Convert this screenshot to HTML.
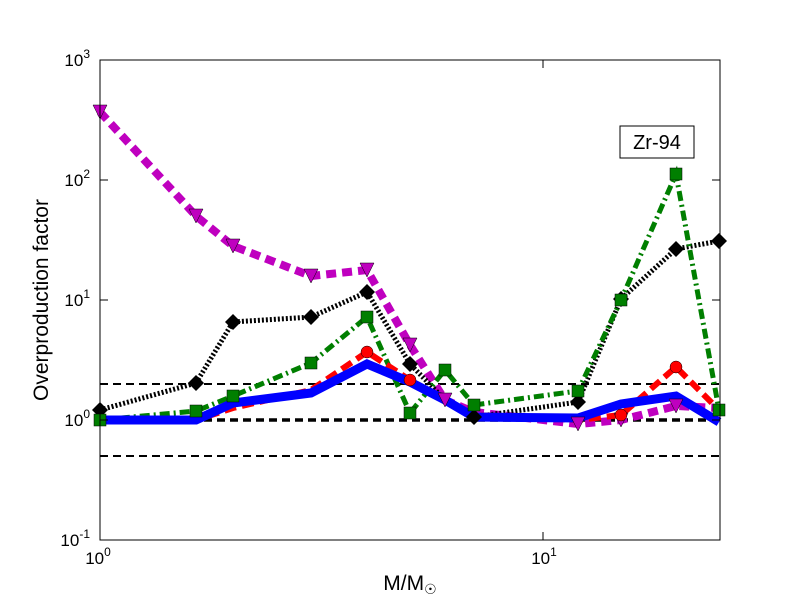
<!DOCTYPE html>
<html><head><style>body{margin:0;background:#fff}</style></head><body>
<svg width="800" height="600" xmlns="http://www.w3.org/2000/svg" font-family="Liberation Sans, sans-serif">
<rect width="800" height="600" fill="#fff"/>
<g stroke="#000" stroke-dasharray="8,5" fill="none">
<line x1="100" y1="384" x2="720" y2="384" stroke-width="2"/>
<line x1="100" y1="420" x2="720" y2="420" stroke-width="3.5"/>
<line x1="100" y1="456" x2="720" y2="456" stroke-width="2"/>
</g>
<polyline fill="none" stroke="#bf00bf" stroke-width="8" stroke-dasharray="10,6" points="100,112 196,216 233,246 311,276 367,270 410,345 445,400 474,412 578,424 621,420 676,406 719,408"/>
<polyline fill="none" stroke="#000" stroke-width="5" stroke-dasharray="2,2" points="100,410 196,383 233,322 311,317 367,292 410,364 445,400 474,417 578,402 621,299 676,249 719,241"/>
<polyline fill="none" stroke="#007f00" stroke-width="5" stroke-dasharray="10,4,2,4" points="100,420 196,411 233,396 311,363 367,317 410,413 445,370 474,405 578,391 621,300 676,174 719,410"/>
<polyline fill="none" stroke="#f00" stroke-width="6" stroke-dasharray="12,6" points="100,420 196,420 233,408 311,390 367,352 410,380 445,400 474,415 578,420 621,415 676,367 719,410"/>
<polyline fill="none" stroke="#00f" stroke-width="9" points="100,420 196,420 233,403 311,393 367,364 410,382 445,400 474,417 578,418 621,404 676,396 719,422"/>
<g fill="#bf00bf" stroke="#000" stroke-width="0.5">
<path d="M93,105h14l-7,14z"/><path d="M189,209h14l-7,14z"/><path d="M226,239h14l-7,14z"/><path d="M304,269h14l-7,14z"/><path d="M360,263h14l-7,14z"/><path d="M403,338h14l-7,14z"/><path d="M438,393h14l-7,14z"/><path d="M571,417h14l-7,14z"/><path d="M614,413h14l-7,14z"/><path d="M669,399h14l-7,14z"/>
</g>
<g fill="#000">
<path d="M100,402l8,8-8,8-8-8z"/><path d="M196,375l8,8-8,8-8-8z"/><path d="M233,314l8,8-8,8-8-8z"/><path d="M311,309l8,8-8,8-8-8z"/><path d="M367,284l8,8-8,8-8-8z"/><path d="M410,356l8,8-8,8-8-8z"/><path d="M474,409l8,8-8,8-8-8z"/><path d="M578,394l8,8-8,8-8-8z"/><path d="M621,291l8,8-8,8-8-8z"/><path d="M676,241l8,8-8,8-8-8z"/><path d="M719,233l8,8-8,8-8-8z"/>
</g>
<g fill="#007f00" stroke="#000" stroke-width="0.5">
<rect x="94" y="414" width="12" height="12"/><rect x="190" y="405" width="12" height="12"/><rect x="227" y="390" width="12" height="12"/><rect x="305" y="357" width="12" height="12"/><rect x="361" y="311" width="12" height="12"/><rect x="404" y="407" width="12" height="12"/><rect x="439" y="364" width="12" height="12"/><rect x="468" y="399" width="12" height="12"/><rect x="572" y="385" width="12" height="12"/><rect x="615" y="294" width="12" height="12"/><rect x="670" y="168" width="12" height="12"/><rect x="713" y="404" width="12" height="12"/>
</g>
<g fill="#f00" stroke="#000" stroke-width="0.5">
<circle cx="367" cy="352" r="6"/><circle cx="410" cy="380" r="6"/><circle cx="621" cy="415" r="6"/><circle cx="676" cy="367" r="6"/>
</g>
<rect x="100" y="60" width="620" height="480" fill="none" stroke="#000" stroke-width="1"/>
<g stroke="#000">
<line x1="543" y1="540" x2="543" y2="532"/><line x1="543" y1="60" x2="543" y2="68"/>
<line x1="100" y1="420" x2="108" y2="420"/><line x1="100" y1="300" x2="108" y2="300"/><line x1="100" y1="180" x2="108" y2="180"/>
<line x1="720" y1="420" x2="712" y2="420"/><line x1="720" y1="300" x2="712" y2="300"/><line x1="720" y1="180" x2="712" y2="180"/>
</g>
<g font-size="17" text-anchor="end">
<text x="90" y="546">10<tspan font-size="12" dy="-8">-1</tspan></text>
<text x="90" y="426">10<tspan font-size="12" dy="-8">0</tspan></text>
<text x="90" y="306">10<tspan font-size="12" dy="-8">1</tspan></text>
<text x="90" y="186">10<tspan font-size="12" dy="-8">2</tspan></text>
<text x="90" y="66">10<tspan font-size="12" dy="-8">3</tspan></text>
</g>
<g font-size="17" text-anchor="middle">
<text x="98" y="564">10<tspan font-size="12" dy="-8">0</tspan></text>
<text x="544" y="564">10<tspan font-size="12" dy="-8">1</tspan></text>
</g>
<text x="410" y="590" font-size="21" text-anchor="middle">M/M<tspan font-size="14" dy="4">☉</tspan></text>
<text transform="translate(48,300) rotate(-90)" font-size="21" text-anchor="middle">Overproduction factor</text>
<rect x="620" y="126" width="74" height="32" fill="#fff" stroke="#000"/>
<text x="657" y="149" font-size="20" text-anchor="middle">Zr-94</text>
</svg>
</body></html>
